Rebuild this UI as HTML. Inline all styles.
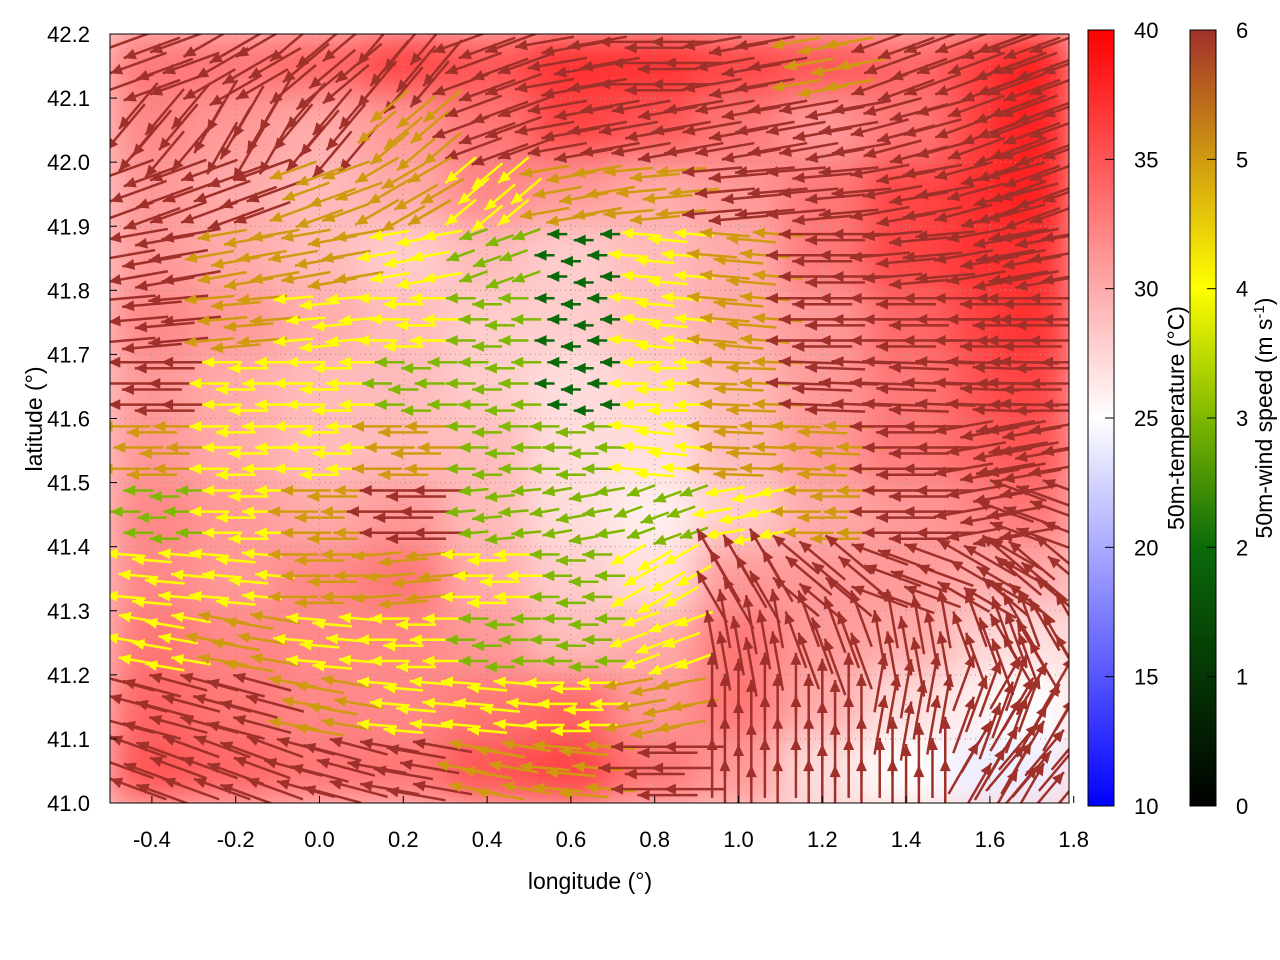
<!DOCTYPE html>
<html><head><meta charset="utf-8">
<style>
body{margin:0;background:#fff;}
svg{display:block;font-family:"Liberation Sans",sans-serif;}
</style></head>
<body>
<svg id="chart" width="1280" height="960" viewBox="0 0 1280 960" xmlns="http://www.w3.org/2000/svg">
<defs>
<clipPath id="plotclip"><rect x="110" y="34" width="959" height="769"/></clipPath>
<filter id="blur" x="-5%" y="-5%" width="110%" height="110%"><feGaussianBlur stdDeviation="18"/></filter>
<linearGradient id="tgrad" x1="0" y1="1" x2="0" y2="0">
<stop offset="0" stop-color="#0000ff"/><stop offset="0.5" stop-color="#ffffff"/><stop offset="1" stop-color="#ff0000"/>
</linearGradient>
<linearGradient id="wgrad" x1="0" y1="1" x2="0" y2="0">
<stop offset="0" stop-color="#000000"/><stop offset="0.333" stop-color="#0a6a0a"/><stop offset="0.5" stop-color="#7fb800"/><stop offset="0.667" stop-color="#ffff00"/><stop offset="0.833" stop-color="#d09a10"/><stop offset="1" stop-color="#a0302a"/>
</linearGradient>
</defs>
<g id="plot" clip-path="url(#plotclip)">
<rect x="110" y="34" width="959" height="769" fill="#ffd0d0"/>
<g id="heat" filter="url(#blur)"></g>
<g id="grid"></g>
<g id="arrows"></g>
</g>
<rect x="110" y="34" width="959" height="769" fill="none" stroke="#000" stroke-width="1"/>
<g id="axes"></g>
<rect x="1088" y="30" width="26" height="776" fill="url(#tgrad)" stroke="#000"/>
<rect x="1190" y="30" width="26" height="776" fill="url(#wgrad)" stroke="#000"/>
<g id="cbars"></g>
<text x="590" y="889" font-size="23" text-anchor="middle">longitude (°)</text>
<text transform="translate(42,419) rotate(-90)" font-size="23" text-anchor="middle">latitude (°)</text>
<text transform="translate(1184,418) rotate(-90)" font-size="23" text-anchor="middle">50m-temperature (°C)</text>
<text transform="translate(1272,418) rotate(-90)" font-size="23" text-anchor="middle">50m-wind speed (m s<tspan dy="-8" font-size="15">-1</tspan><tspan dy="8">)</tspan></text>
</svg>
<script>
const lonTicks=[-0.4,-0.2,0.0,0.2,0.4,0.6,0.8,1.0,1.2,1.4,1.6,1.8];
const latTicks=[41.0,41.1,41.2,41.3,41.4,41.5,41.6,41.7,41.8,41.9,42.0,42.1,42.2];
const tempTicks=[10,15,20,25,30,35,40];
const windTicks=[0,1,2,3,4,5,6];
const gridLons=[-0.4,-0.2,0.0,0.2,0.4,0.6,0.8,1.0,1.2,1.4,1.6,1.7];
const gridLats=[42.15,42.05,41.95,41.85,41.75,41.65,41.55,41.45,41.35,41.25,41.15,41.05];
const temps=[
[33,33,34,36,35,37,37,36,35,34,36,38],
[32,31,30,31,33,36,35,33,31,33,36,38],
[31,30,29,30,32,31,30,31,33,36,37,38],
[31,30,29,28,29,28,29,30,33,36,37,37],
[32,31,30,29,28,28,29,30,31,34,36,37],
[31,30,29,29,28,27,28,29,31,33,35,36],
[31,30,29,29,29,27,27,29,31,33,34,35],
[32,31,30,31,29,27,26,28,30,31,32,33],
[32,31,32,33,30,28,27,31,31,31,30,30],
[33,32,32,32,31,29,30,33,31,30,28,27],
[34,33,32,32,33,34,31,33,30,27,26,25],
[35,34,33,33,35,36,33,31,27,25,24,24]];
const speeds=[
[6,6,6,6,6,6,6,6,5,6,6,6],
[6,6,6,5,6,6,6,6,6,6,6,6],
[6,6,5,5,4,5,5,6,6,6,6,6],
[6,5,5,4,3,2,4,5,6,6,6,6],
[6,5,4,4,3,2,4,5,6,6,6,6],
[6,4,4,3,3,2,4,5,6,6,6,6],
[5,4,4,5,3,3,4,5,5,6,6,6],
[3,4,5,6,3,3,3,4,5,6,6,6],
[4,4,5,5,4,3,4,6,6,6,6,6],
[4,5,4,4,3,3,4,6,6,6,6,6],
[6,6,5,4,4,4,5,6,6,6,6,6],
[6,6,6,6,5,5,6,6,6,6,6,6]];
const angles=[
[200,210,220,230,200,190,180,190,190,200,200,200],
[230,240,230,220,200,190,190,190,190,195,200,200],
[200,200,200,210,220,190,185,185,185,190,195,200],
[190,190,190,190,200,180,175,175,180,185,190,190],
[185,185,185,180,180,180,175,175,180,180,180,180],
[180,180,180,180,180,180,180,178,178,178,178,180],
[180,180,180,180,180,180,175,178,178,180,190,190],
[180,180,180,180,185,190,200,190,180,180,190,160],
[175,175,180,185,180,180,210,120,140,160,150,140],
[170,170,175,180,180,180,200,100,110,100,110,120],
[165,165,170,175,175,180,190,90,90,80,70,60],
[160,160,165,170,170,175,180,90,90,90,60,50]];

const NS='http://www.w3.org/2000/svg';
const X=v=>110+(v+0.5)*419;
const Y=v=>803-(v-41.0)*(769/1.2);
const TY=t=>806-(t-10)*(776/30);
const WY=w=>806-w*(776/6);
function mk(tag,attrs,parent){const e=document.createElementNS(NS,tag);for(const k in attrs)e.setAttribute(k,attrs[k]);parent.appendChild(e);return e;}
function lerp(a,b,t){return a+(b-a)*t;}
function tempColor(t){
  const f=Math.max(0,Math.min(1,(t-10)/30));
  if(f<0.5){const k=f/0.5;return `rgb(${Math.round(lerp(0,255,k))},${Math.round(lerp(0,255,k))},255)`;}
  const k=(f-0.5)/0.5;return `rgb(255,${Math.round(lerp(255,0,k))},${Math.round(lerp(255,0,k))})`;
}
const wstops=[[0,[0,0,0]],[2,[10,106,10]],[3,[127,184,0]],[4,[255,255,0]],[5,[208,154,16]],[6,[160,48,42]]];
function windColor(w){
  for(let i=1;i<wstops.length;i++){if(w<=wstops[i][0]){const a=wstops[i-1],b=wstops[i];const k=(w-a[0])/(b[0]-a[0]);
  return `rgb(${a[1].map((c,j)=>Math.round(lerp(c,b[1][j],k))).join(',')})`;}}
  return 'rgb(160,48,42)';
}
const heat=document.getElementById('heat');
const cw=959/12, ch=769/12;
temps.forEach((row,r)=>row.forEach((t,c)=>{
  const el=mk('rect',{x:X(gridLons[c])-cw/2-2,y:Y(gridLats[r])-ch/2-2,width:cw+4,height:ch+4,fill:tempColor(t)},heat);
  
  
}));
const grid=document.getElementById('grid');
lonTicks.forEach(v=>{mk('line',{x1:X(v),x2:X(v),y1:34,y2:803,stroke:'#999','stroke-dasharray':'1,4','stroke-width':1},grid);});
latTicks.forEach(v=>{mk('line',{x1:110,x2:1069,y1:Y(v),y2:Y(v),stroke:'#999','stroke-dasharray':'1,4','stroke-width':1},grid);});
const arrows=document.getElementById('arrows');
const sub=[-0.33,0,0.33];
speeds.forEach((row,r)=>row.forEach((s,c)=>{
  const a=angles[r][c]*Math.PI/180;
  const len=s*10;
  const dx=Math.cos(a)*len, dy=-Math.sin(a)*len;
  const col=windColor(s);
  sub.forEach((oy,iy)=>sub.forEach((ox,ix)=>{
    const shift=((iy+r)%2)*0.16;
    const cx=X(gridLons[c])+(ox+shift)*cw, cy=Y(gridLats[r])+oy*ch+((ix%2)*6-3);
    const x0=cx-dx/2,y0=cy-dy/2,x1=cx+dx/2,y1=cy+dy/2;
    const g=mk('g',{},arrows);
    
    
    mk('line',{x1:x0,y1:y0,x2:x1,y2:y1,stroke:col,'stroke-width':2.5},g);
    const ux=dx/len,uy=dy/len,h=12,w=5.5;
    const bx=x1-ux*h,by=y1-uy*h;
    mk('polygon',{points:`${x1},${y1} ${bx-uy*w},${by+ux*w} ${bx+uy*w},${by-ux*w}`,fill:col},g);
  }));
}));
const axes=document.getElementById('axes');
lonTicks.forEach(v=>{
  mk('line',{x1:X(v),x2:X(v),y1:803,y2:796,stroke:'#000'},axes);
  const t=mk('text',{x:X(v),y:847,'font-size':22,'text-anchor':'middle'},axes);t.textContent=v.toFixed(1);
  
  
});
latTicks.forEach(v=>{
  mk('line',{x1:110,x2:117,y1:Y(v),y2:Y(v),stroke:'#000'},axes);
  const t=mk('text',{x:90,y:Y(v)+8,'font-size':22,'text-anchor':'end'},axes);t.textContent=v.toFixed(1);
  
  
});
const cb=document.getElementById('cbars');
tempTicks.forEach(v=>{
  mk('line',{x1:1105,x2:1114,y1:TY(v),y2:TY(v),stroke:'#000'},cb);
  const t=mk('text',{x:1134,y:TY(v)+8,'font-size':22},cb);t.textContent=v;
  
  
});
windTicks.forEach(v=>{
  mk('line',{x1:1207,x2:1216,y1:WY(v),y2:WY(v),stroke:'#000'},cb);
  const t=mk('text',{x:1236,y:WY(v)+8,'font-size':22},cb);t.textContent=v;
  
  
});
</script>
</body></html>
